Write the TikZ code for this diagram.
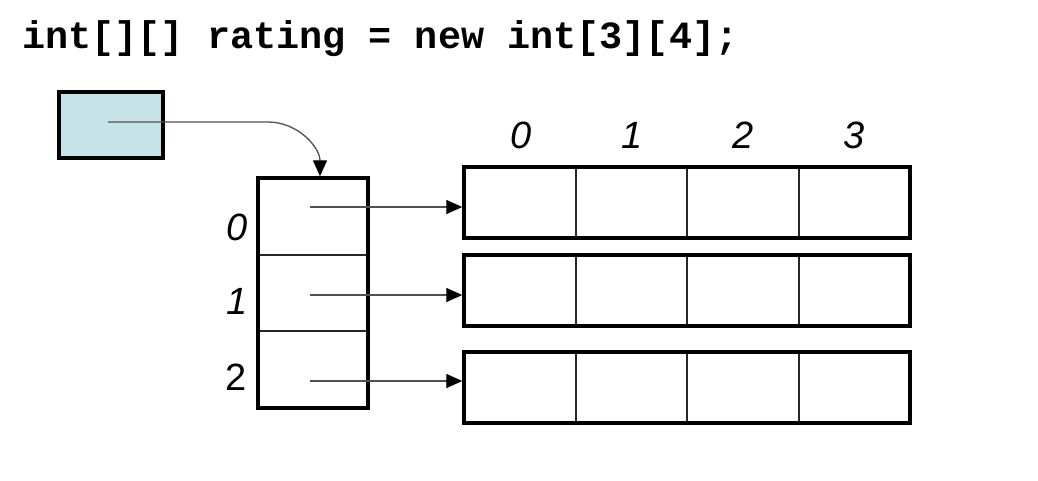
\documentclass[tikz,border=0pt]{standalone}
\usepackage{fontspec}
\setmainfont{Liberation Sans}
\newfontfamily\codefont{Liberation Mono}
\usetikzlibrary{arrows.meta,positioning}
\definecolor{cptr}{HTML}{C6E4E8}
\definecolor{cwire}{HTML}{505050}
\tikzset{
  ptrbox/.style={rectangle, draw=black, line width=4pt, fill=cptr,
    minimum width=104pt, minimum height=66pt, inner sep=0pt},
  cell/.style={rectangle, draw=black!85, line width=1.6pt,
    minimum width=111.5pt, minimum height=71pt, inner sep=0pt},
  vcell/.style={rectangle, draw=black!85, line width=1.6pt,
    minimum width=110pt, minimum height=76.7pt, inner sep=0pt},
  outline/.style={rectangle, draw=black, line width=3.4pt, inner sep=0pt},
  idx/.style={font=\fontsize{38}{40}\selectfont\itshape, inner sep=0pt},
  arr/.style={-{Triangle[length=16pt, width=14pt, black]}, line width=1.3pt, draw=cwire},
}

\begin{document}
\begin{tikzpicture}[x=1pt, y=-1pt]
  \useasboundingbox (0,0) rectangle (1038,480);

  \node[anchor=base west, inner sep=0pt, font=\codefont\bfseries\fontsize{38.5}{40}\selectfont]
    (decl) at (22,48) {int[][] rating = new int[3][4];};

  % reference variable
  \node[ptrbox] (ptr) at (110.5,124.5) {};

  % array of rows
  \foreach \i/\y in {0/216.5,1/293,2/369.5}
    \node[vcell] (c\i) at (313,\y) {};
  \node[outline, minimum width=110pt, minimum height=230pt] (col) at (313,293) {};

  \node[idx, anchor=base] (l0) at (237,240) {0};
  \node[idx, anchor=base] (l1) at (237,314) {1};
  \node[idx, anchor=base, font=\fontsize{38}{40}\selectfont] (l2) at (236,390) {2};

  % the three rows
  \foreach \r/\y in {0/202.5,1/290.5,2/387.5}{
    \foreach \k/\x in {0/520,1/631.5,2/743,3/854.5}
      \node[cell] (r\r c\k) at (\x,\y) {};
    \node[outline, minimum width=446pt, minimum height=71pt] (r\r) at (687,\y) {};
  }

  \foreach \k/\x in {0/521,1/632,2/743,3/854}
    \node[idx, anchor=base] (h\k) at (\x,148) {\k};

  \coordinate (p0) at (310,207);
  \coordinate (p1) at (310,295);
  \coordinate (p2) at (310,381);
  \draw[arr] (p0) -- (p0 -| r0.west);
  \draw[arr] (p1) -- (p1 -| r1.west);
  \draw[arr] (p2) -- (p2 -| r2.west);

  \coordinate (src) at (108,122);
  \draw[arr] (src) -- ++(160,0) to[out=0, in=90] ([xshift=7pt]col.north);
\end{tikzpicture}
\end{document}
